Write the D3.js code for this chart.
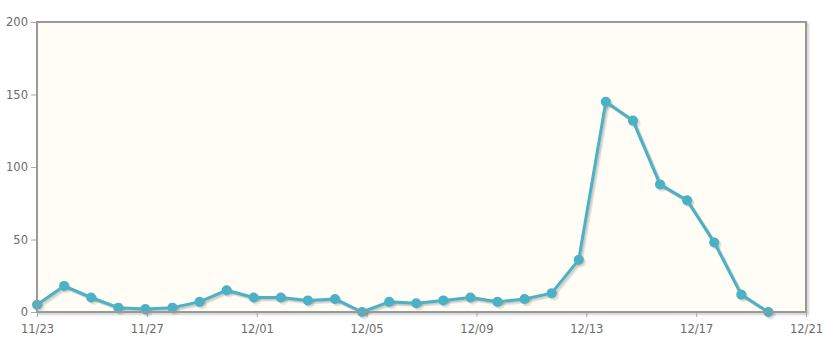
<!DOCTYPE html>
<html>
<head>
<meta charset="utf-8">
<script src="https://cdn.jsdelivr.net/npm/d3@7"></script>
<style>
  body { margin: 0; background: #fff; }
  text { font-family: Tahoma, "DejaVu Sans", sans-serif; font-size: 11.5px; fill: #6b6b6b; }
</style>
</head>
<body>
<div id="chart"></div>
<script>
// daily values, 11/23 .. 12/20
const dates = ["11/23","11/24","11/25","11/26","11/27","11/28","11/29","11/30",
  "12/01","12/02","12/03","12/04","12/05","12/06","12/07","12/08","12/09","12/10",
  "12/11","12/12","12/13","12/14","12/15","12/16","12/17","12/18","12/19","12/20"];
const values = [5, 18, 10, 3, 2, 3, 7, 15, 10, 10, 8, 9, 0, 7, 6, 8, 10, 7, 9, 13,
  36, 145, 132, 88, 77, 48, 12, 0];
const xTickLabels = ["11/23","11/27","12/01","12/05","12/09","12/13","12/17","12/21"];
const yTicks = [0, 50, 100, 150, 200];

const width = 839, height = 355;
const margin = {top: 22, right: 33, bottom: 43, left: 37};

// axis spans a little more than the data (jqPlot style even ticks)
const xMax = 28.39;

const svg = d3.select("#chart")
    .append("svg")
    .attr("width", width)
    .attr("height", height);

const xScale = d3.scaleLinear()
    .domain([0, xMax])
    .range([margin.left, width - margin.right]);

const yScale = d3.scaleLinear()
    .domain([0, 200])
    .range([height - margin.bottom, margin.top]);

const x0 = margin.left, x1 = width - margin.right;
const y0 = margin.top, y1 = height - margin.bottom;

// grid shadow
for (let i = 1; i <= 3; i++) {
    svg.append("rect")
        .attr("x", x0 + i * 0.9)
        .attr("y", y0 + i * 0.9)
        .attr("width", x1 - x0)
        .attr("height", y1 - y0)
        .attr("fill", "none")
        .attr("stroke", "rgba(0,0,0,0.07)")
        .attr("stroke-width", 2);
}

svg.append("rect")
    .attr("x", x0)
    .attr("y", y0)
    .attr("width", x1 - x0)
    .attr("height", y1 - y0)
    .attr("fill", "#fffdf6");

// axes
const xTickVals = xTickLabels.map((d, i) => i * xMax / (xTickLabels.length - 1));
const xAxis = svg.append("g")
    .attr("transform", `translate(0,${y1})`)
    .call(d3.axisBottom(xScale)
        .tickValues(xTickVals)
        .tickFormat((d, i) => xTickLabels[i])
        .tickSize(5)
        .tickPadding(8));
xAxis.select(".domain").remove();
xAxis.selectAll("line").attr("stroke", "#aaa");

const yAxis = svg.append("g")
    .attr("transform", `translate(${x0},0)`)
    .call(d3.axisLeft(yScale)
        .tickValues(yTicks)
        .tickSize(6)
        .tickPadding(3));
yAxis.select(".domain").remove();
yAxis.selectAll("line").attr("stroke", "#aaa");
xAxis.selectAll("text").attr("font-size", null);
yAxis.selectAll("text").attr("font-size", null);
svg.selectAll(".tick text").attr("fill", null);

const pts = values.map((v, i) => [i, v]);

const line = d3.line()
    .x((d) => xScale(d[0]))
    .y((d) => yScale(d[1]));

const plot = svg.append("g");

// series shadow
for (let i = 1; i <= 3; i++) {
    plot.append("path")
        .datum(pts)
        .attr("d", line)
        .attr("transform", `translate(${i * 0.9},${i * 0.9})`)
        .attr("fill", "none")
        .attr("stroke", "rgba(0,0,0,0.08)")
        .attr("stroke-width", 3)
        .attr("stroke-linejoin", "round");
    plot.selectAll(null)
        .data(pts)
        .enter()
        .append("circle")
        .attr("cx", (d) => xScale(d[0]) + i * 0.9)
        .attr("cy", (d) => yScale(d[1]) + i * 0.9)
        .attr("r", 5)
        .attr("fill", "rgba(0,0,0,0.06)");
}

plot.append("path")
    .datum(pts)
    .attr("d", line)
    .attr("fill", "none")
    .attr("stroke", "#4bb2c5")
    .attr("stroke-width", 3)
    .attr("stroke-linejoin", "round");

plot.selectAll(".dot")
    .data(pts)
    .enter()
    .append("circle")
    .attr("class", "dot")
    .attr("cx", (d) => xScale(d[0]))
    .attr("cy", (d) => yScale(d[1]))
    .attr("r", 5)
    .attr("fill", "#4bb2c5");

// border drawn on top so markers at zero tuck under it
svg.append("rect")
    .attr("x", x0)
    .attr("y", y0)
    .attr("width", x1 - x0)
    .attr("height", y1 - y0)
    .attr("fill", "none")
    .attr("stroke", "#999")
    .attr("stroke-width", 2);
</script>
</body>
</html>
